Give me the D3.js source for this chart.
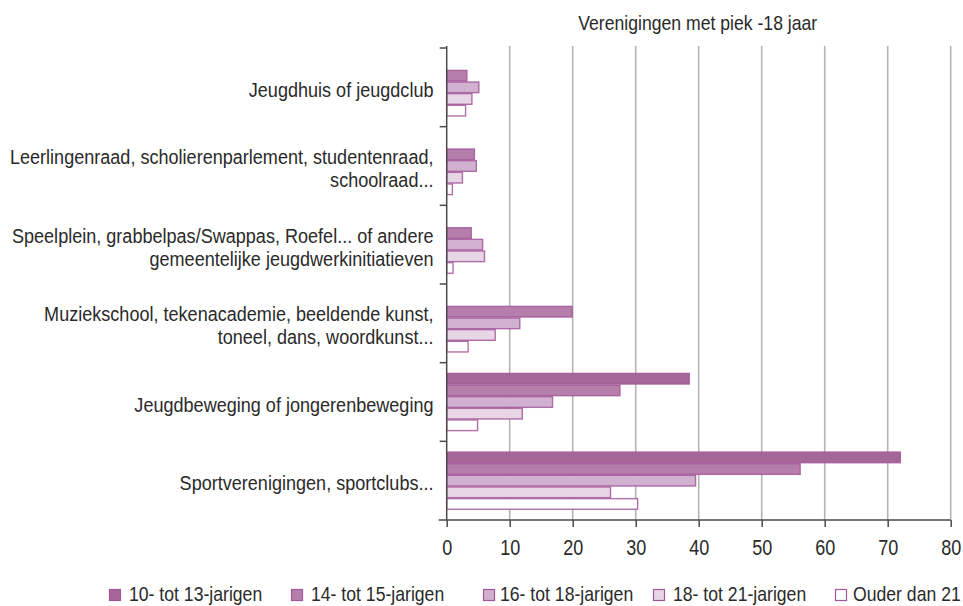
<!DOCTYPE html>
<html>
<head>
<meta charset="utf-8">
<script src="https://cdn.jsdelivr.net/npm/d3@7"></script>
<style>
  html, body { margin: 0; padding: 0; background: #fff; }
  svg text { font-family: "Liberation Sans", Arial, Helvetica, sans-serif; fill: #2a2a2a; }
</style>
</head>
<body>
<svg id="chart" width="963" height="606"></svg>
<script>
// ---- data ----
const title = "Verenigingen met piek -18 jaar";
const categories = [
  "Jeugdhuis of jeugdclub",
  "Leerlingenraad, scholierenparlement, studentenraad,\nschoolraad...",
  "Speelplein, grabbelpas/Swappas, Roefel... of andere\ngemeentelijke jeugdwerkinitiatieven",
  "Muziekschool, tekenacademie, beeldende kunst,\ntoneel, dans, woordkunst...",
  "Jeugdbeweging of jongerenbeweging",
  "Sportverenigingen, sportclubs..."
];
const seriesNames = ["10- tot 13-jarigen", "14- tot 15-jarigen", "16- tot 18-jarigen", "18- tot 21-jarigen", "Ouder dan 21"];
const s10to13 = [0, 0, 0, 0, 38.5, 72.0];
const s14to15 = [3.2, 4.4, 3.9, 19.9, 27.5, 56.1];
const s16to18 = [5.1, 4.7, 5.7, 11.6, 16.8, 39.5];
const s18to21 = [4.0, 2.5, 6.0, 7.7, 12.0, 26.0];
const sOuder21 = [3.0, 0.9, 1.0, 3.4, 4.9, 30.3];
const xTicks = [0, 10, 20, 30, 40, 50, 60, 70, 80];

const seriesValues = [s10to13, s14to15, s16to18, s18to21, sOuder21];
const fills = ["#a56698", "#b67fab", "#d1b1d0", "#e7d6e5", "#ffffff"];
const strokeCol = "#a3579a";

// ---- layout ----
const mLeft = 446.7, mRight = 950.7, mTop = 48, mBottom = 520;
const condense = 0.86;
const svg = d3.select("#chart");

const x = d3.scaleLinear().domain([0, 80]).range([mLeft, mRight]);
const y = d3.scaleBand().domain(categories).range([mTop, mBottom]).paddingInner(0.26).paddingOuter(0.13);
const ySub = d3.scaleBand().domain(d3.range(seriesNames.length)).range([0, y.bandwidth()]);

// helper: condensed text placed with a horizontal squeeze
function ctext(parent, tx, ty, str, size, anchor, sx) {
  const g = parent.append("g").attr("transform", `translate(${tx},${ty}) scale(${sx || condense},1)`);
  g.append("text").attr("text-anchor", anchor).style("font-size", size + "px").text(str);
  return g;
}

// gridlines
svg.append("g").selectAll("line").data(xTicks.filter(d => d > 0)).join("line")
  .attr("x1", d => x(d)).attr("x2", d => x(d))
  .attr("y1", mTop - 2).attr("y2", mBottom)
  .attr("stroke", "#b4b4b4").attr("stroke-width", 1.6);

// bars
const groups = svg.append("g").selectAll("g").data(categories).join("g")
  .attr("transform", d => `translate(0,${y(d)})`);
groups.selectAll("rect")
  .data((c, ci) => seriesValues.map((arr, si) => ({ si, v: arr[ci] })).filter(d => d.v > 0))
  .join("rect")
  .attr("x", x(0))
  .attr("y", d => ySub(d.si) + 0.5)
  .attr("width", d => x(d.v) - x(0))
  .attr("height", ySub.bandwidth() - 1)
  .attr("fill", d => fills[d.si])
  .attr("stroke", strokeCol)
  .attr("stroke-opacity", 0.85)
  .attr("stroke-width", 1.4);

// y axis line + ticks at band boundaries
const step = y.step();
const boundaries = categories.map(c => y(c) - step * y.paddingInner() / 2);
svg.append("line").attr("x1", mLeft).attr("x2", mLeft).attr("y1", mTop - 2).attr("y2", mBottom)
  .attr("stroke", "#4a4a4a").attr("stroke-width", 1.5);
svg.append("g").selectAll("line").data(boundaries).join("line")
  .attr("x1", mLeft - 7).attr("x2", mLeft).attr("y1", d => d).attr("y2", d => d)
  .attr("stroke", "#4a4a4a").attr("stroke-width", 1.5);

// x axis
const xAxis = d3.axisBottom(x).tickValues(xTicks).tickSize(7).tickSizeOuter(0);
const gx = svg.append("g").attr("transform", `translate(0,${mBottom})`).call(xAxis);
gx.attr("font-family", null).attr("font-size", null);
gx.select(".domain").attr("stroke", "#4a4a4a").attr("stroke-width", 1.5).attr("d", `M${mLeft - 8},0H${mRight}`);
gx.selectAll(".tick line").attr("stroke", "#4a4a4a").attr("stroke-width", 1.5);
gx.selectAll(".tick text").attr("y", 0).attr("dy", 0)
  .attr("transform", "translate(0,34.5) scale(0.82,1)")
  .style("font-size", "22px").attr("fill", "#2a2a2a");

// category labels
const lineH = 23;
const labG = svg.append("g");
categories.forEach(c => {
  const lines = c.split("\n");
  const cy = y(c) + y.bandwidth() / 2;
  lines.forEach((ln, i) => {
    ctext(labG, 433.5, cy + 9.5 + (i - (lines.length - 1) / 2) * lineH, ln, 21, "end");
  });
});

// title
ctext(svg, (mLeft + mRight) / 2 - 1, 30, title, 20.5, "middle");

// legend
const legSquareX = [109, 291, 483, 653, 835];
const legTextX = [129, 311, 500, 673, 853];
const leg = svg.append("g");
seriesNames.forEach((name, i) => {
  leg.append("rect")
    .attr("x", legSquareX[i] + 0.5).attr("y", 589.5)
    .attr("width", 11).attr("height", 11)
    .attr("fill", fills[i]).attr("stroke", strokeCol).attr("stroke-width", 1.2);
  ctext(leg, legTextX[i], 600.5, name, 20.5, "start");
});
</script>
</body>
</html>
